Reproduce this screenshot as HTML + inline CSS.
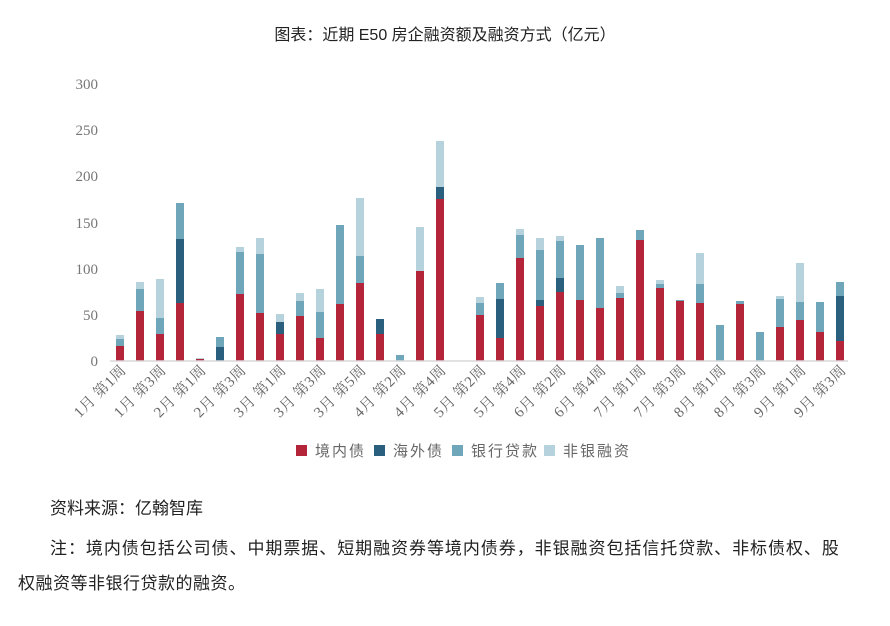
<!DOCTYPE html>
<html><head><meta charset="utf-8"><style>
body{margin:0;background:#fff;width:890px;height:621px;overflow:hidden;font-family:"Liberation Sans","Noto Sans CJK SC",sans-serif;}
</style></head><body>
<svg width="890" height="621" xmlns="http://www.w3.org/2000/svg">
<text x="445" y="40" text-anchor="middle" font-size="16" fill="#222" font-family="Liberation Sans,Noto Sans CJK SC,sans-serif">图表：近期 E50 房企融资额及融资方式（亿元）</text>
<g font-family="Liberation Serif,Noto Serif CJK SC,serif" font-size="15" fill="#777" text-anchor="end">
<text x="98" y="89">300</text><text x="98" y="135">250</text><text x="98" y="181">200</text><text x="98" y="228">150</text><text x="98" y="274">100</text><text x="98" y="320">50</text><text x="98" y="366">0</text>
</g>
<g id="bars"></g>
<line x1="110" y1="361" x2="848" y2="361" stroke="#d9d9d9" stroke-width="1.5"/>
<g id="xl" font-family="Liberation Serif,Noto Serif CJK SC,serif" font-size="15" fill="#666" text-anchor="end" letter-spacing="0.5"></g>
<g font-size="15" fill="#666" font-family="Liberation Sans,Noto Sans CJK SC,sans-serif" letter-spacing="2">
<rect x="296" y="445" width="11" height="11" fill="#b5253a"/><text x="315" y="456">境内债</text>
<rect x="374" y="445" width="11" height="11" fill="#2a5f7e"/><text x="393" y="456">海外债</text>
<rect x="452" y="445" width="11" height="11" fill="#6fa6b9"/><text x="471" y="456">银行贷款</text>
<rect x="544" y="445" width="11" height="11" fill="#b6d3dd"/><text x="563" y="456">非银融资</text>
</g>
<g font-size="17" fill="#222" font-family="Liberation Sans,Noto Sans CJK SC,sans-serif">
<text x="50" y="514">资料来源：亿翰智库</text>
<text x="50" y="554" letter-spacing="0.95">注：境内债包括公司债、中期票据、短期融资券等境内债券，非银融资包括信托贷款、非标债权、股</text>
<text x="18" y="589" letter-spacing="0.5">权融资等非银行贷款的融资。</text>
</g>
</svg>
<script>
var d=[[346,0,339,335],[311,0,289,282],[334,0,318,279],[303,239,203,0],[359,0,0,358],[361,347,337,0],[294,0,252,247],[313,0,254,238],[334,322,0,314],[316,0,301,293],[338,0,312,289],[304,0,225,0],[283,0,256,198],[334,319,0,0],[361,0,355,0],[271,0,0,227],[199,187,0,141],[361,0,0,0],[315,0,303,297],[338,299,283,0],[258,0,235,229],[306,300,250,238],[292,278,241,236],[300,0,245,0],[308,0,238,0],[298,0,293,286],[240,0,230,0],[288,0,284,280],[301,0,300,0],[303,0,284,253],[361,0,325,0],[304,0,301,0],[361,0,332,0],[327,0,299,296],[320,0,302,263],[332,0,302,0],[341,296,282,0]];
var c=["#b5253a","#2a5f7e","#6fa6b9","#b6d3dd"],ns="http://www.w3.org/2000/svg",g=document.getElementById("bars");
d.forEach(function(b,i){var x=116+20*i,prev=361;for(var k=0;k<4;k++){if(!b[k])continue;var t=b[k];if(t<prev){var r=document.createElementNS(ns,"rect");r.setAttribute("x",x);r.setAttribute("width",8);r.setAttribute("y",t);r.setAttribute("height",prev-t);r.setAttribute("fill",c[k]);g.appendChild(r);prev=t;}}});
var L=["1月 第1周","1月 第3周","2月 第1周","2月 第3周","3月 第1周","3月 第3周","3月 第5周","4月 第2周","4月 第4周","5月 第2周","5月 第4周","6月 第2周","6月 第4周","7月 第1周","7月 第3周","8月 第1周","8月 第3周","9月 第1周","9月 第3周"];
var xl=document.getElementById("xl");
L.forEach(function(s,j){var x=127+40*j,y=371;var t=document.createElementNS(ns,"text");t.setAttribute("transform","translate("+x+","+y+") rotate(-45)");t.textContent=s;xl.appendChild(t);});
</script>
</body></html>
